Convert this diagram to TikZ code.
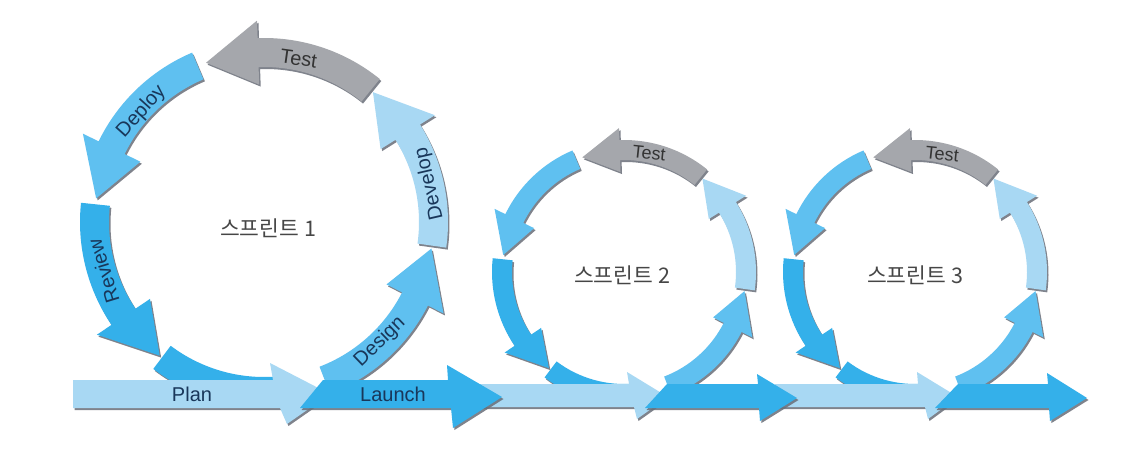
\documentclass[tikz,border=0pt]{standalone}
\usepackage{fontspec}
\setmainfont{Liberation Sans}
\newfontfamily\kor{Noto Sans CJK KR}
\usetikzlibrary{calc,shadows}
\definecolor{lb}{RGB}{168,216,243}
\definecolor{mb}{RGB}{95,192,240}
\definecolor{db}{RGB}{52,176,234}
\definecolor{gy}{RGB}{165,167,172}
\definecolor{shc}{RGB}{105,110,120}
\definecolor{lbl}{RGB}{25,55,90}
\definecolor{ktxt}{RGB}{70,70,70}
\tikzset{
  sh/.style={drop shadow={shadow xshift=1.5pt, shadow yshift=-2pt, fill=shc, opacity=0.85}},
  lab/.style={text=lbl, inner sep=0pt, font=\fontsize{20}{22}\selectfont},
  tlab/.style={text=black!80, inner sep=0pt, font=\fontsize{20}{22}\selectfont},
  tlabs/.style={text=black!80, inner sep=0pt, font=\fontsize{18}{20}\selectfont},
  ktitle/.style={text=ktxt, inner sep=0pt, font=\kor\fontsize{21.5}{24}\selectfont},
}
% center, r, half band, half head, start angle, tip angle, head length (deg), colour
\newcommand\segarrow[8]{%
  \fill[#8,sh] ($(#1)+({#5}:{#2-#3})$) arc[start angle={#5}, end angle={#6-#7}, radius={#2-#3}]
   -- ($(#1)+({#6-#7}:{#2-#4})$) -- ($(#1)+({#6}:{#2})$) -- ($(#1)+({#6-#7}:{#2+#4})$)
   -- ($(#1)+({#6-#7}:{#2+#3})$) arc[start angle={#6-#7}, end angle={#5}, radius={#2+#3}] -- cycle;}
\newcommand\cyclering[4]{%
  \fill[db,sh] ($(#1)+(233:{#2-#3})$) arc[start angle=233,end angle=276,radius={#2-#3}]
    -- ($(#1)+(276:{#2+#3})$) arc[start angle=276,end angle=233,radius={#2+#3}] -- cycle;
  \segarrow{#1}{#2}{#3}{#4}{291}{351}{18}{mb}
  \segarrow{#1}{#2}{#3}{#4}{352}{410}{18}{lb}
  \segarrow{#1}{#2}{#3}{#4}{51}{110}{18}{gy}
  \segarrow{#1}{#2}{#3}{#4}{113}{172}{18}{mb}
  \segarrow{#1}{#2}{#3}{#4}{174}{232}{18}{db}
}
\begin{document}
\begin{tikzpicture}[x=1pt,y=1pt]
\useasboundingbox (0,0) rectangle (1138,-466);
\fill[white] (0,0) rectangle (1138,-466);
\coordinate (c1) at (264,-222);
\coordinate (c2) at (624,-272);
\coordinate (c3) at (915,-272);
% rings
\cyclering{c1}{169.5}{14.5}{32}
\cyclering{c2}{122}{10}{22}
\cyclering{c3}{122}{10}{22}
% light bars
\fill[lb,sh] (73,-380) -- (273,-380) -- (270,-363) -- (330,-394) -- (287,-424) -- (280,-408) -- (73,-408) -- cycle;
\fill[lb,sh] (470,-384) -- (629,-384) -- (627,-372) -- (668,-397) -- (637,-419) -- (634,-407) -- (470,-407) -- cycle;
\fill[lb,sh] (775,-384) -- (918,-384) -- (917,-372) -- (958,-397) -- (928,-419) -- (925,-407) -- (775,-407) -- cycle;
% dark bars
\fill[db,sh] (300,-408) -- (323,-380) -- (448,-380) -- (447,-365) -- (502,-397) -- (453,-428) -- (451,-408) -- cycle;
\fill[db,sh] (645,-408) -- (667,-384) -- (758,-384) -- (757,-374) -- (797,-398) -- (760,-421) -- (759,-408) -- cycle;
\fill[db,sh] (935,-408) -- (958,-384) -- (1048,-384) -- (1047,-373) -- (1087,-398) -- (1050,-421) -- (1049,-408) -- cycle;
% labels circle 1
\node[lab, rotate=44] (des1) at ($(c1)+(314:167)$) {Design};
\node[lab, rotate=103] (dev1) at ($(c1)+(13:170)$) {Develop};
\node[tlab, rotate=-8] (tst1) at ($(c1)+(78:167)$) {Test};
\node[lab, rotate=48] (dep1) at ($(c1)+(138:165)$) {Deploy};
\node[lab, rotate=107] (rev1) at ($(c1)+(197:168)$) {Review};
\node[tlabs, rotate=-6] (tst2) at ($(c2)+(78:121)$) {Test};
\node[tlabs, rotate=-6] (tst3) at ($(c3)+(77:121)$) {Test};
% titles
\node[ktitle] (k1) at (268,-228) {스프린트 1};
\node[ktitle] (k2) at (622,-275) {스프린트 2};
\node[ktitle] (k3) at (915,-275) {스프린트 3};
% bar labels
\node[lab] (plan) at (192,-394) {Plan};
\node[lab] (launch) at (393,-394) {Launch};
\end{tikzpicture}
\end{document}
